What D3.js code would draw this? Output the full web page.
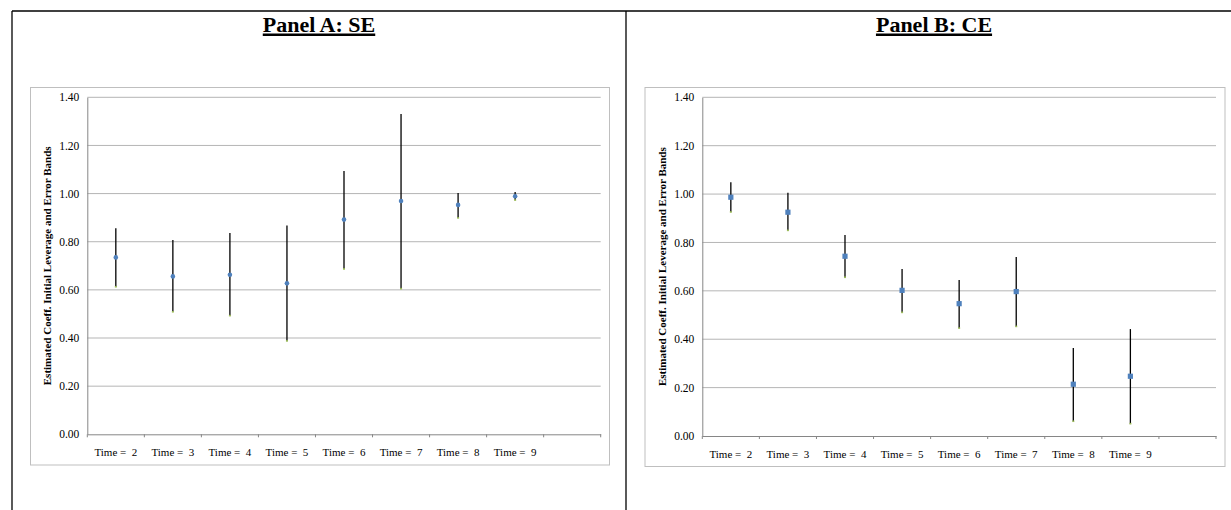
<!DOCTYPE html>
<html>
<head>
<meta charset="utf-8">
<script src="https://cdn.jsdelivr.net/npm/d3@7"></script>
<style>
  body { margin: 0; background: #fff; }
  svg { display: block; }
  text { font-family: "Liberation Serif", "Times New Roman", serif; }
</style>
</head>
<body>
<script>
// data
const categories = ["Time =  2", "Time =  3", "Time =  4", "Time =  5", "Time =  6", "Time =  7", "Time =  8", "Time =  9", ""];
const yTicks = [0, 0.2, 0.4, 0.6, 0.8, 1.0, 1.2, 1.4];

const seMid = [0.735, 0.656, 0.663, 0.627, 0.892, 0.969, 0.953, 0.989];
const seHigh = [0.856, 0.807, 0.836, 0.867, 1.094, 1.331, 1.002, 1.007];
const seLow = [0.613, 0.509, 0.493, 0.388, 0.687, 0.605, 0.899, 0.973];

const ceMid = [0.987, 0.925, 0.743, 0.602, 0.547, 0.597, 0.214, 0.247];
const ceHigh = [1.049, 1.005, 0.831, 0.690, 0.645, 0.740, 0.364, 0.442];
const ceLow = [0.926, 0.850, 0.656, 0.511, 0.446, 0.453, 0.061, 0.051];

const W = 1231, H = 510;
const svg = d3.select("body").append("svg").attr("width", W).attr("height", H);

// outer frame of the two-panel table
svg.append("line").attr("x1", 12).attr("x2", W).attr("y1", 11).attr("y2", 11)
  .attr("stroke", "#000").attr("stroke-width", 1.3);
svg.append("line").attr("x1", 12).attr("x2", 12).attr("y1", 11).attr("y2", H)
  .attr("stroke", "#000").attr("stroke-width", 1.3);
svg.append("line").attr("x1", 626).attr("x2", 626).attr("y1", 11).attr("y2", H)
  .attr("stroke", "#000").attr("stroke-width", 1.3);

function drawPanel(opt) {
  const g = svg.append("g");

  // title with thick underline
  const t = g.append("text")
    .attr("x", opt.titleX).attr("y", 31.5)
    .attr("text-anchor", "middle")
    .attr("font-size", 22).attr("font-weight", "bold")
    .text(opt.title);
  const tw = t.node().getComputedTextLength();
  g.append("line")
    .attr("x1", opt.titleX - tw / 2).attr("x2", opt.titleX + tw / 2)
    .attr("y1", 34.8).attr("y2", 34.8)
    .attr("stroke", "#000").attr("stroke-width", 2.4);

  // chart box
  g.append("rect")
    .attr("x", opt.box[0]).attr("y", opt.box[1])
    .attr("width", opt.box[2] - opt.box[0]).attr("height", opt.box[3] - opt.box[1])
    .attr("fill", "#fff").attr("stroke", "#bfbfbf").attr("stroke-width", 1);

  const x = d3.scaleBand().domain(categories).range([opt.left, opt.right]);
  const y = d3.scaleLinear().domain([0, 1.4]).range([opt.bottom, opt.top]);

  // gridlines
  g.selectAll(".grid").data(yTicks.filter(d => d > 0)).enter().append("line")
    .attr("x1", opt.left).attr("x2", opt.right)
    .attr("y1", d => y(d)).attr("y2", d => y(d))
    .attr("stroke", "#b5b5b5").attr("stroke-width", 1);

  // y axis
  const ya = g.append("g").attr("transform", `translate(${opt.left},0)`)
    .call(d3.axisLeft(y).tickValues(yTicks).tickFormat(d3.format(".2f")).tickSize(0).tickPadding(8));
  ya.select(".domain").attr("stroke", "#868686");
  ya.selectAll("text").attr("font-size", 11.5).attr("fill", "#000")
    .style("font-family", "'Liberation Serif', serif");

  // x axis
  const xa = g.append("g").attr("transform", `translate(0,${opt.bottom})`)
    .call(d3.axisBottom(x).tickSize(0).tickPadding(14));
  xa.select(".domain").attr("stroke", "#868686");
  xa.selectAll("text").attr("font-size", 11).attr("fill", "#000")
    .style("font-family", "'Liberation Serif', serif").style("white-space", "pre");
  // tick marks sit on band edges
  const edges = categories.map(c => x(c)).concat([opt.right]);
  g.selectAll(".xt").data(edges).enter().append("line")
    .attr("x1", d => d).attr("x2", d => d)
    .attr("y1", opt.bottom).attr("y2", opt.bottom + 3)
    .attr("stroke", "#868686");

  // y axis title
  g.append("text")
    .attr("transform", `translate(${opt.left - 36},${(opt.top + opt.bottom) / 2}) rotate(-90)`)
    .attr("text-anchor", "middle")
    .attr("font-size", 11).attr("font-weight", "bold")
    .text("Estimated Coeff. Initial Leverage and Error Bands");

  const cx = i => x(categories[i]) + x.bandwidth() / 2;

  // error bars
  g.selectAll(".bar").data(opt.mid).enter().append("line")
    .attr("x1", (d, i) => cx(i)).attr("x2", (d, i) => cx(i))
    .attr("y1", (d, i) => y(opt.high[i])).attr("y2", (d, i) => y(opt.low[i]))
    .attr("stroke", "#000").attr("stroke-width", 1.3);

  // low-end marker
  g.selectAll(".lo").data(opt.low).enter().append("rect")
    .attr("x", (d, i) => cx(i) - 1).attr("y", d => y(d) - 0.8)
    .attr("width", 2).attr("height", 1.6)
    .attr("fill", "#9bbb59");

  // point estimate
  if (opt.shape === "circle") {
    g.selectAll(".pt").data(opt.mid).enter().append("circle")
      .attr("cx", (d, i) => cx(i)).attr("cy", d => y(d)).attr("r", 2.3)
      .attr("fill", "#4f81bd");
  } else {
    g.selectAll(".pt").data(opt.mid).enter().append("rect")
      .attr("x", (d, i) => cx(i) - 2.6).attr("y", d => y(d) - 2.6)
      .attr("width", 5.2).attr("height", 5.2)
      .attr("fill", "#4f81bd");
  }
}

drawPanel({
  title: "Panel A: SE", titleX: 319,
  box: [30.5, 87.5, 609.5, 465],
  left: 87.3, right: 600.7, top: 97.3, bottom: 434.3,
  mid: seMid, high: seHigh, low: seLow, shape: "circle"
});

drawPanel({
  title: "Panel B: CE", titleX: 934,
  box: [645, 87.5, 1225, 466.5],
  left: 702.3, right: 1216, top: 97.3, bottom: 436,
  mid: ceMid, high: ceHigh, low: ceLow, shape: "square"
});
</script>
</body>
</html>
